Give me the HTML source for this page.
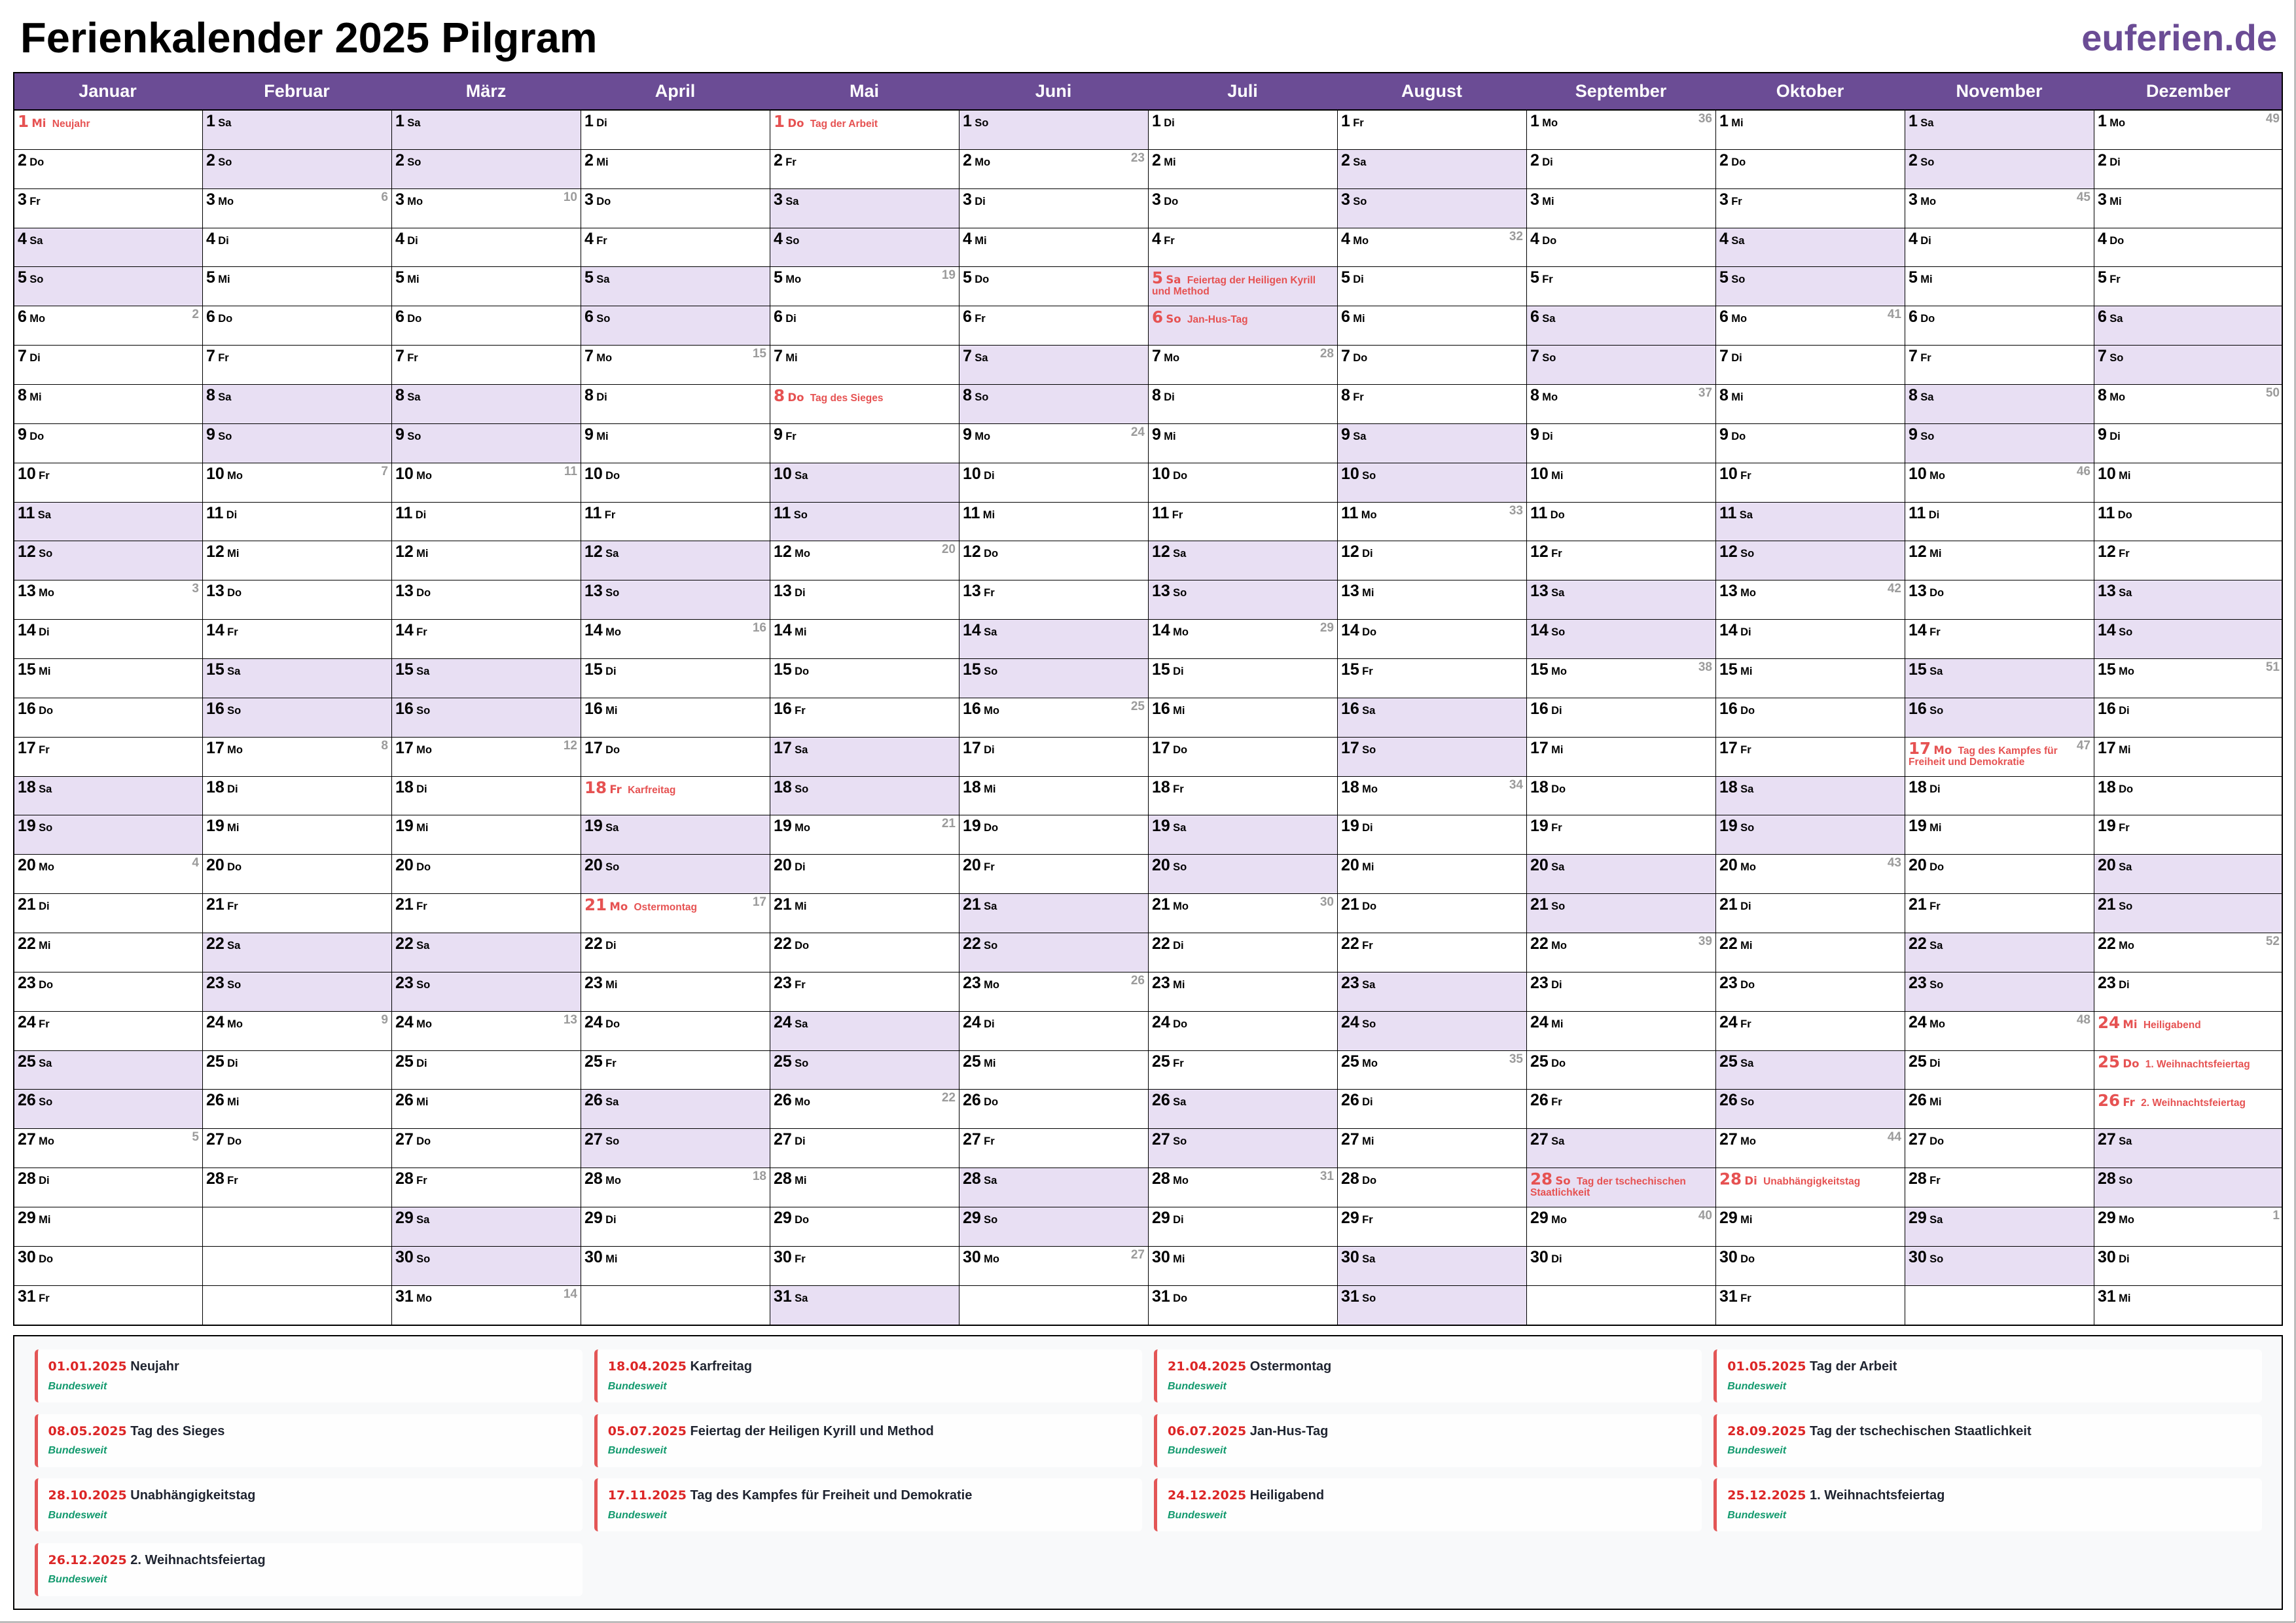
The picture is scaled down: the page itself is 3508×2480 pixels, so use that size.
<!DOCTYPE html>
<html lang="de">
<head>
<meta charset="utf-8">
<title>Ferienkalender 2025 Pilgram</title>
<style>
*{margin:0;padding:0;box-sizing:border-box}
html,body{width:3508px;height:2480px;background:#fff;overflow:hidden}
body{position:relative;font-family:"Liberation Sans",Arial,sans-serif;color:#000}
#title{position:absolute;left:31px;top:25px;font-size:65px;line-height:65px;font-weight:bold;white-space:nowrap}
#brand{position:absolute;right:29px;top:30px;font-size:56px;line-height:56px;font-weight:bold;color:#6b4c95;white-space:nowrap}
#hdr{position:absolute;left:20px;top:110px;width:3468px;height:59px;background:#6b4c95;border-bottom:2px solid #000;display:grid;grid-template-columns:repeat(12,289px)}
#hdr div{color:#fff;font-size:27px;font-weight:bold;text-align:center;line-height:55px;padding-top:2px}
#g{position:absolute;left:20px;top:169px;width:3468px;display:grid;grid-template-columns:repeat(12,289px);grid-template-rows:repeat(31,59.86px);grid-auto-flow:column}
.c{border-left:1px solid #000;border-bottom:1px solid #000;position:relative;padding:8px 4px 0 5px;font-size:15.5px;line-height:17px;font-weight:bold;white-space:nowrap;overflow:hidden;background:#fff}
.c:nth-child(-n+31){border-left:0;padding-left:7px}
.c:nth-child(31n){border-bottom:0}
.c.w{background:#e8dff3}
.c b{font-size:25px}
.c i{font-style:normal;font-size:16.5px}
.c s{position:absolute;right:5px;top:3px;font-size:19px;line-height:19px;color:#9b9b9b;text-decoration:none}
.c u{text-decoration:none;margin-left:5px}
.c.h{color:#e65252}
.c.h b{font-family:"DejaVu Sans",sans-serif;font-size:24.5px}
.c.h i{font-family:"DejaVu Sans",sans-serif;font-size:16.5px}
#ob{position:absolute;left:20px;top:110px;width:3468px;height:1916px;border:2px solid #000;pointer-events:none}
#lg{position:absolute;left:20px;top:2040px;width:3468px;height:420px;border:2px solid #000;background:#f8f9fa;padding:20px 30.5px;display:grid;grid-template-columns:repeat(4,1fr);column-gap:18px;row-gap:17.5px;grid-auto-rows:81px}
.k{background:#fefefe;border-left:5px solid #e35656;border-radius:6px;position:relative}
.l1{position:absolute;left:16px;top:14px;font-size:20px;line-height:24px;font-weight:bold;color:#1f2430;white-space:nowrap}
.l1 em{font-style:normal;font-family:"DejaVu Sans",sans-serif;font-size:19px;color:#dc2626}
.l2{position:absolute;left:16px;top:46.5px;font-size:16px;line-height:20px;font-weight:bold;font-style:italic;color:#139a6e;white-space:nowrap}
#pr{position:absolute;left:3506px;top:0;width:1px;height:2479px;background:#555}
#pb{position:absolute;left:0;top:2478px;width:3507px;height:1px;background:#555}
</style>
</head>
<body>
<div id="title">Ferienkalender 2025 Pilgram</div>
<div id="brand">euferien.de</div>

<div id="hdr"><div>Januar</div><div>Februar</div><div>März</div><div>April</div><div>Mai</div><div>Juni</div><div>Juli</div><div>August</div><div>September</div><div>Oktober</div><div>November</div><div>Dezember</div></div>

<div id="g">
<!-- Januar -->
<div class="c h"><b>1</b> <i>Mi</i> <u>Neujahr</u></div>
<div class=c><b>2</b> <i>Do</i></div>
<div class=c><b>3</b> <i>Fr</i></div>
<div class="c w"><b>4</b> <i>Sa</i></div>
<div class="c w"><b>5</b> <i>So</i></div>
<div class=c><b>6</b> <i>Mo</i><s>2</s></div>
<div class=c><b>7</b> <i>Di</i></div>
<div class=c><b>8</b> <i>Mi</i></div>
<div class=c><b>9</b> <i>Do</i></div>
<div class=c><b>10</b> <i>Fr</i></div>
<div class="c w"><b>11</b> <i>Sa</i></div>
<div class="c w"><b>12</b> <i>So</i></div>
<div class=c><b>13</b> <i>Mo</i><s>3</s></div>
<div class=c><b>14</b> <i>Di</i></div>
<div class=c><b>15</b> <i>Mi</i></div>
<div class=c><b>16</b> <i>Do</i></div>
<div class=c><b>17</b> <i>Fr</i></div>
<div class="c w"><b>18</b> <i>Sa</i></div>
<div class="c w"><b>19</b> <i>So</i></div>
<div class=c><b>20</b> <i>Mo</i><s>4</s></div>
<div class=c><b>21</b> <i>Di</i></div>
<div class=c><b>22</b> <i>Mi</i></div>
<div class=c><b>23</b> <i>Do</i></div>
<div class=c><b>24</b> <i>Fr</i></div>
<div class="c w"><b>25</b> <i>Sa</i></div>
<div class="c w"><b>26</b> <i>So</i></div>
<div class=c><b>27</b> <i>Mo</i><s>5</s></div>
<div class=c><b>28</b> <i>Di</i></div>
<div class=c><b>29</b> <i>Mi</i></div>
<div class=c><b>30</b> <i>Do</i></div>
<div class=c><b>31</b> <i>Fr</i></div>
<!-- Februar -->
<div class="c w"><b>1</b> <i>Sa</i></div>
<div class="c w"><b>2</b> <i>So</i></div>
<div class=c><b>3</b> <i>Mo</i><s>6</s></div>
<div class=c><b>4</b> <i>Di</i></div>
<div class=c><b>5</b> <i>Mi</i></div>
<div class=c><b>6</b> <i>Do</i></div>
<div class=c><b>7</b> <i>Fr</i></div>
<div class="c w"><b>8</b> <i>Sa</i></div>
<div class="c w"><b>9</b> <i>So</i></div>
<div class=c><b>10</b> <i>Mo</i><s>7</s></div>
<div class=c><b>11</b> <i>Di</i></div>
<div class=c><b>12</b> <i>Mi</i></div>
<div class=c><b>13</b> <i>Do</i></div>
<div class=c><b>14</b> <i>Fr</i></div>
<div class="c w"><b>15</b> <i>Sa</i></div>
<div class="c w"><b>16</b> <i>So</i></div>
<div class=c><b>17</b> <i>Mo</i><s>8</s></div>
<div class=c><b>18</b> <i>Di</i></div>
<div class=c><b>19</b> <i>Mi</i></div>
<div class=c><b>20</b> <i>Do</i></div>
<div class=c><b>21</b> <i>Fr</i></div>
<div class="c w"><b>22</b> <i>Sa</i></div>
<div class="c w"><b>23</b> <i>So</i></div>
<div class=c><b>24</b> <i>Mo</i><s>9</s></div>
<div class=c><b>25</b> <i>Di</i></div>
<div class=c><b>26</b> <i>Mi</i></div>
<div class=c><b>27</b> <i>Do</i></div>
<div class=c><b>28</b> <i>Fr</i></div>
<div class=c></div>
<div class=c></div>
<div class=c></div>
<!-- März -->
<div class="c w"><b>1</b> <i>Sa</i></div>
<div class="c w"><b>2</b> <i>So</i></div>
<div class=c><b>3</b> <i>Mo</i><s>10</s></div>
<div class=c><b>4</b> <i>Di</i></div>
<div class=c><b>5</b> <i>Mi</i></div>
<div class=c><b>6</b> <i>Do</i></div>
<div class=c><b>7</b> <i>Fr</i></div>
<div class="c w"><b>8</b> <i>Sa</i></div>
<div class="c w"><b>9</b> <i>So</i></div>
<div class=c><b>10</b> <i>Mo</i><s>11</s></div>
<div class=c><b>11</b> <i>Di</i></div>
<div class=c><b>12</b> <i>Mi</i></div>
<div class=c><b>13</b> <i>Do</i></div>
<div class=c><b>14</b> <i>Fr</i></div>
<div class="c w"><b>15</b> <i>Sa</i></div>
<div class="c w"><b>16</b> <i>So</i></div>
<div class=c><b>17</b> <i>Mo</i><s>12</s></div>
<div class=c><b>18</b> <i>Di</i></div>
<div class=c><b>19</b> <i>Mi</i></div>
<div class=c><b>20</b> <i>Do</i></div>
<div class=c><b>21</b> <i>Fr</i></div>
<div class="c w"><b>22</b> <i>Sa</i></div>
<div class="c w"><b>23</b> <i>So</i></div>
<div class=c><b>24</b> <i>Mo</i><s>13</s></div>
<div class=c><b>25</b> <i>Di</i></div>
<div class=c><b>26</b> <i>Mi</i></div>
<div class=c><b>27</b> <i>Do</i></div>
<div class=c><b>28</b> <i>Fr</i></div>
<div class="c w"><b>29</b> <i>Sa</i></div>
<div class="c w"><b>30</b> <i>So</i></div>
<div class=c><b>31</b> <i>Mo</i><s>14</s></div>
<!-- April -->
<div class=c><b>1</b> <i>Di</i></div>
<div class=c><b>2</b> <i>Mi</i></div>
<div class=c><b>3</b> <i>Do</i></div>
<div class=c><b>4</b> <i>Fr</i></div>
<div class="c w"><b>5</b> <i>Sa</i></div>
<div class="c w"><b>6</b> <i>So</i></div>
<div class=c><b>7</b> <i>Mo</i><s>15</s></div>
<div class=c><b>8</b> <i>Di</i></div>
<div class=c><b>9</b> <i>Mi</i></div>
<div class=c><b>10</b> <i>Do</i></div>
<div class=c><b>11</b> <i>Fr</i></div>
<div class="c w"><b>12</b> <i>Sa</i></div>
<div class="c w"><b>13</b> <i>So</i></div>
<div class=c><b>14</b> <i>Mo</i><s>16</s></div>
<div class=c><b>15</b> <i>Di</i></div>
<div class=c><b>16</b> <i>Mi</i></div>
<div class=c><b>17</b> <i>Do</i></div>
<div class="c h"><b>18</b> <i>Fr</i> <u>Karfreitag</u></div>
<div class="c w"><b>19</b> <i>Sa</i></div>
<div class="c w"><b>20</b> <i>So</i></div>
<div class="c h"><b>21</b> <i>Mo</i> <u>Ostermontag</u><s>17</s></div>
<div class=c><b>22</b> <i>Di</i></div>
<div class=c><b>23</b> <i>Mi</i></div>
<div class=c><b>24</b> <i>Do</i></div>
<div class=c><b>25</b> <i>Fr</i></div>
<div class="c w"><b>26</b> <i>Sa</i></div>
<div class="c w"><b>27</b> <i>So</i></div>
<div class=c><b>28</b> <i>Mo</i><s>18</s></div>
<div class=c><b>29</b> <i>Di</i></div>
<div class=c><b>30</b> <i>Mi</i></div>
<div class=c></div>
<!-- Mai -->
<div class="c h"><b>1</b> <i>Do</i> <u>Tag der Arbeit</u></div>
<div class=c><b>2</b> <i>Fr</i></div>
<div class="c w"><b>3</b> <i>Sa</i></div>
<div class="c w"><b>4</b> <i>So</i></div>
<div class=c><b>5</b> <i>Mo</i><s>19</s></div>
<div class=c><b>6</b> <i>Di</i></div>
<div class=c><b>7</b> <i>Mi</i></div>
<div class="c h"><b>8</b> <i>Do</i> <u>Tag des Sieges</u></div>
<div class=c><b>9</b> <i>Fr</i></div>
<div class="c w"><b>10</b> <i>Sa</i></div>
<div class="c w"><b>11</b> <i>So</i></div>
<div class=c><b>12</b> <i>Mo</i><s>20</s></div>
<div class=c><b>13</b> <i>Di</i></div>
<div class=c><b>14</b> <i>Mi</i></div>
<div class=c><b>15</b> <i>Do</i></div>
<div class=c><b>16</b> <i>Fr</i></div>
<div class="c w"><b>17</b> <i>Sa</i></div>
<div class="c w"><b>18</b> <i>So</i></div>
<div class=c><b>19</b> <i>Mo</i><s>21</s></div>
<div class=c><b>20</b> <i>Di</i></div>
<div class=c><b>21</b> <i>Mi</i></div>
<div class=c><b>22</b> <i>Do</i></div>
<div class=c><b>23</b> <i>Fr</i></div>
<div class="c w"><b>24</b> <i>Sa</i></div>
<div class="c w"><b>25</b> <i>So</i></div>
<div class=c><b>26</b> <i>Mo</i><s>22</s></div>
<div class=c><b>27</b> <i>Di</i></div>
<div class=c><b>28</b> <i>Mi</i></div>
<div class=c><b>29</b> <i>Do</i></div>
<div class=c><b>30</b> <i>Fr</i></div>
<div class="c w"><b>31</b> <i>Sa</i></div>
<!-- Juni -->
<div class="c w"><b>1</b> <i>So</i></div>
<div class=c><b>2</b> <i>Mo</i><s>23</s></div>
<div class=c><b>3</b> <i>Di</i></div>
<div class=c><b>4</b> <i>Mi</i></div>
<div class=c><b>5</b> <i>Do</i></div>
<div class=c><b>6</b> <i>Fr</i></div>
<div class="c w"><b>7</b> <i>Sa</i></div>
<div class="c w"><b>8</b> <i>So</i></div>
<div class=c><b>9</b> <i>Mo</i><s>24</s></div>
<div class=c><b>10</b> <i>Di</i></div>
<div class=c><b>11</b> <i>Mi</i></div>
<div class=c><b>12</b> <i>Do</i></div>
<div class=c><b>13</b> <i>Fr</i></div>
<div class="c w"><b>14</b> <i>Sa</i></div>
<div class="c w"><b>15</b> <i>So</i></div>
<div class=c><b>16</b> <i>Mo</i><s>25</s></div>
<div class=c><b>17</b> <i>Di</i></div>
<div class=c><b>18</b> <i>Mi</i></div>
<div class=c><b>19</b> <i>Do</i></div>
<div class=c><b>20</b> <i>Fr</i></div>
<div class="c w"><b>21</b> <i>Sa</i></div>
<div class="c w"><b>22</b> <i>So</i></div>
<div class=c><b>23</b> <i>Mo</i><s>26</s></div>
<div class=c><b>24</b> <i>Di</i></div>
<div class=c><b>25</b> <i>Mi</i></div>
<div class=c><b>26</b> <i>Do</i></div>
<div class=c><b>27</b> <i>Fr</i></div>
<div class="c w"><b>28</b> <i>Sa</i></div>
<div class="c w"><b>29</b> <i>So</i></div>
<div class=c><b>30</b> <i>Mo</i><s>27</s></div>
<div class=c></div>
<!-- Juli -->
<div class=c><b>1</b> <i>Di</i></div>
<div class=c><b>2</b> <i>Mi</i></div>
<div class=c><b>3</b> <i>Do</i></div>
<div class=c><b>4</b> <i>Fr</i></div>
<div class="c w h"><b>5</b> <i>Sa</i> <u>Feiertag der Heiligen Kyrill</u><br>und Method</div>
<div class="c w h"><b>6</b> <i>So</i> <u>Jan-Hus-Tag</u></div>
<div class=c><b>7</b> <i>Mo</i><s>28</s></div>
<div class=c><b>8</b> <i>Di</i></div>
<div class=c><b>9</b> <i>Mi</i></div>
<div class=c><b>10</b> <i>Do</i></div>
<div class=c><b>11</b> <i>Fr</i></div>
<div class="c w"><b>12</b> <i>Sa</i></div>
<div class="c w"><b>13</b> <i>So</i></div>
<div class=c><b>14</b> <i>Mo</i><s>29</s></div>
<div class=c><b>15</b> <i>Di</i></div>
<div class=c><b>16</b> <i>Mi</i></div>
<div class=c><b>17</b> <i>Do</i></div>
<div class=c><b>18</b> <i>Fr</i></div>
<div class="c w"><b>19</b> <i>Sa</i></div>
<div class="c w"><b>20</b> <i>So</i></div>
<div class=c><b>21</b> <i>Mo</i><s>30</s></div>
<div class=c><b>22</b> <i>Di</i></div>
<div class=c><b>23</b> <i>Mi</i></div>
<div class=c><b>24</b> <i>Do</i></div>
<div class=c><b>25</b> <i>Fr</i></div>
<div class="c w"><b>26</b> <i>Sa</i></div>
<div class="c w"><b>27</b> <i>So</i></div>
<div class=c><b>28</b> <i>Mo</i><s>31</s></div>
<div class=c><b>29</b> <i>Di</i></div>
<div class=c><b>30</b> <i>Mi</i></div>
<div class=c><b>31</b> <i>Do</i></div>
<!-- August -->
<div class=c><b>1</b> <i>Fr</i></div>
<div class="c w"><b>2</b> <i>Sa</i></div>
<div class="c w"><b>3</b> <i>So</i></div>
<div class=c><b>4</b> <i>Mo</i><s>32</s></div>
<div class=c><b>5</b> <i>Di</i></div>
<div class=c><b>6</b> <i>Mi</i></div>
<div class=c><b>7</b> <i>Do</i></div>
<div class=c><b>8</b> <i>Fr</i></div>
<div class="c w"><b>9</b> <i>Sa</i></div>
<div class="c w"><b>10</b> <i>So</i></div>
<div class=c><b>11</b> <i>Mo</i><s>33</s></div>
<div class=c><b>12</b> <i>Di</i></div>
<div class=c><b>13</b> <i>Mi</i></div>
<div class=c><b>14</b> <i>Do</i></div>
<div class=c><b>15</b> <i>Fr</i></div>
<div class="c w"><b>16</b> <i>Sa</i></div>
<div class="c w"><b>17</b> <i>So</i></div>
<div class=c><b>18</b> <i>Mo</i><s>34</s></div>
<div class=c><b>19</b> <i>Di</i></div>
<div class=c><b>20</b> <i>Mi</i></div>
<div class=c><b>21</b> <i>Do</i></div>
<div class=c><b>22</b> <i>Fr</i></div>
<div class="c w"><b>23</b> <i>Sa</i></div>
<div class="c w"><b>24</b> <i>So</i></div>
<div class=c><b>25</b> <i>Mo</i><s>35</s></div>
<div class=c><b>26</b> <i>Di</i></div>
<div class=c><b>27</b> <i>Mi</i></div>
<div class=c><b>28</b> <i>Do</i></div>
<div class=c><b>29</b> <i>Fr</i></div>
<div class="c w"><b>30</b> <i>Sa</i></div>
<div class="c w"><b>31</b> <i>So</i></div>
<!-- September -->
<div class=c><b>1</b> <i>Mo</i><s>36</s></div>
<div class=c><b>2</b> <i>Di</i></div>
<div class=c><b>3</b> <i>Mi</i></div>
<div class=c><b>4</b> <i>Do</i></div>
<div class=c><b>5</b> <i>Fr</i></div>
<div class="c w"><b>6</b> <i>Sa</i></div>
<div class="c w"><b>7</b> <i>So</i></div>
<div class=c><b>8</b> <i>Mo</i><s>37</s></div>
<div class=c><b>9</b> <i>Di</i></div>
<div class=c><b>10</b> <i>Mi</i></div>
<div class=c><b>11</b> <i>Do</i></div>
<div class=c><b>12</b> <i>Fr</i></div>
<div class="c w"><b>13</b> <i>Sa</i></div>
<div class="c w"><b>14</b> <i>So</i></div>
<div class=c><b>15</b> <i>Mo</i><s>38</s></div>
<div class=c><b>16</b> <i>Di</i></div>
<div class=c><b>17</b> <i>Mi</i></div>
<div class=c><b>18</b> <i>Do</i></div>
<div class=c><b>19</b> <i>Fr</i></div>
<div class="c w"><b>20</b> <i>Sa</i></div>
<div class="c w"><b>21</b> <i>So</i></div>
<div class=c><b>22</b> <i>Mo</i><s>39</s></div>
<div class=c><b>23</b> <i>Di</i></div>
<div class=c><b>24</b> <i>Mi</i></div>
<div class=c><b>25</b> <i>Do</i></div>
<div class=c><b>26</b> <i>Fr</i></div>
<div class="c w"><b>27</b> <i>Sa</i></div>
<div class="c w h"><b>28</b> <i>So</i> <u>Tag der tschechischen</u><br>Staatlichkeit</div>
<div class=c><b>29</b> <i>Mo</i><s>40</s></div>
<div class=c><b>30</b> <i>Di</i></div>
<div class=c></div>
<!-- Oktober -->
<div class=c><b>1</b> <i>Mi</i></div>
<div class=c><b>2</b> <i>Do</i></div>
<div class=c><b>3</b> <i>Fr</i></div>
<div class="c w"><b>4</b> <i>Sa</i></div>
<div class="c w"><b>5</b> <i>So</i></div>
<div class=c><b>6</b> <i>Mo</i><s>41</s></div>
<div class=c><b>7</b> <i>Di</i></div>
<div class=c><b>8</b> <i>Mi</i></div>
<div class=c><b>9</b> <i>Do</i></div>
<div class=c><b>10</b> <i>Fr</i></div>
<div class="c w"><b>11</b> <i>Sa</i></div>
<div class="c w"><b>12</b> <i>So</i></div>
<div class=c><b>13</b> <i>Mo</i><s>42</s></div>
<div class=c><b>14</b> <i>Di</i></div>
<div class=c><b>15</b> <i>Mi</i></div>
<div class=c><b>16</b> <i>Do</i></div>
<div class=c><b>17</b> <i>Fr</i></div>
<div class="c w"><b>18</b> <i>Sa</i></div>
<div class="c w"><b>19</b> <i>So</i></div>
<div class=c><b>20</b> <i>Mo</i><s>43</s></div>
<div class=c><b>21</b> <i>Di</i></div>
<div class=c><b>22</b> <i>Mi</i></div>
<div class=c><b>23</b> <i>Do</i></div>
<div class=c><b>24</b> <i>Fr</i></div>
<div class="c w"><b>25</b> <i>Sa</i></div>
<div class="c w"><b>26</b> <i>So</i></div>
<div class=c><b>27</b> <i>Mo</i><s>44</s></div>
<div class="c h"><b>28</b> <i>Di</i> <u>Unabhängigkeitstag</u></div>
<div class=c><b>29</b> <i>Mi</i></div>
<div class=c><b>30</b> <i>Do</i></div>
<div class=c><b>31</b> <i>Fr</i></div>
<!-- November -->
<div class="c w"><b>1</b> <i>Sa</i></div>
<div class="c w"><b>2</b> <i>So</i></div>
<div class=c><b>3</b> <i>Mo</i><s>45</s></div>
<div class=c><b>4</b> <i>Di</i></div>
<div class=c><b>5</b> <i>Mi</i></div>
<div class=c><b>6</b> <i>Do</i></div>
<div class=c><b>7</b> <i>Fr</i></div>
<div class="c w"><b>8</b> <i>Sa</i></div>
<div class="c w"><b>9</b> <i>So</i></div>
<div class=c><b>10</b> <i>Mo</i><s>46</s></div>
<div class=c><b>11</b> <i>Di</i></div>
<div class=c><b>12</b> <i>Mi</i></div>
<div class=c><b>13</b> <i>Do</i></div>
<div class=c><b>14</b> <i>Fr</i></div>
<div class="c w"><b>15</b> <i>Sa</i></div>
<div class="c w"><b>16</b> <i>So</i></div>
<div class="c h"><b>17</b> <i>Mo</i> <u>Tag des Kampfes für</u><br>Freiheit und Demokratie<s>47</s></div>
<div class=c><b>18</b> <i>Di</i></div>
<div class=c><b>19</b> <i>Mi</i></div>
<div class=c><b>20</b> <i>Do</i></div>
<div class=c><b>21</b> <i>Fr</i></div>
<div class="c w"><b>22</b> <i>Sa</i></div>
<div class="c w"><b>23</b> <i>So</i></div>
<div class=c><b>24</b> <i>Mo</i><s>48</s></div>
<div class=c><b>25</b> <i>Di</i></div>
<div class=c><b>26</b> <i>Mi</i></div>
<div class=c><b>27</b> <i>Do</i></div>
<div class=c><b>28</b> <i>Fr</i></div>
<div class="c w"><b>29</b> <i>Sa</i></div>
<div class="c w"><b>30</b> <i>So</i></div>
<div class=c></div>
<!-- Dezember -->
<div class=c><b>1</b> <i>Mo</i><s>49</s></div>
<div class=c><b>2</b> <i>Di</i></div>
<div class=c><b>3</b> <i>Mi</i></div>
<div class=c><b>4</b> <i>Do</i></div>
<div class=c><b>5</b> <i>Fr</i></div>
<div class="c w"><b>6</b> <i>Sa</i></div>
<div class="c w"><b>7</b> <i>So</i></div>
<div class=c><b>8</b> <i>Mo</i><s>50</s></div>
<div class=c><b>9</b> <i>Di</i></div>
<div class=c><b>10</b> <i>Mi</i></div>
<div class=c><b>11</b> <i>Do</i></div>
<div class=c><b>12</b> <i>Fr</i></div>
<div class="c w"><b>13</b> <i>Sa</i></div>
<div class="c w"><b>14</b> <i>So</i></div>
<div class=c><b>15</b> <i>Mo</i><s>51</s></div>
<div class=c><b>16</b> <i>Di</i></div>
<div class=c><b>17</b> <i>Mi</i></div>
<div class=c><b>18</b> <i>Do</i></div>
<div class=c><b>19</b> <i>Fr</i></div>
<div class="c w"><b>20</b> <i>Sa</i></div>
<div class="c w"><b>21</b> <i>So</i></div>
<div class=c><b>22</b> <i>Mo</i><s>52</s></div>
<div class=c><b>23</b> <i>Di</i></div>
<div class="c h"><b>24</b> <i>Mi</i> <u>Heiligabend</u></div>
<div class="c h"><b>25</b> <i>Do</i> <u>1. Weihnachtsfeiertag</u></div>
<div class="c h"><b>26</b> <i>Fr</i> <u>2. Weihnachtsfeiertag</u></div>
<div class="c w"><b>27</b> <i>Sa</i></div>
<div class="c w"><b>28</b> <i>So</i></div>
<div class=c><b>29</b> <i>Mo</i><s>1</s></div>
<div class=c><b>30</b> <i>Di</i></div>
<div class=c><b>31</b> <i>Mi</i></div>
</div>
<div id="ob"></div>

<div id="lg">
<div class="k"><div class="l1"><em>01.01.2025</em> Neujahr</div><div class="l2">Bundesweit</div></div>
<div class="k"><div class="l1"><em>18.04.2025</em> Karfreitag</div><div class="l2">Bundesweit</div></div>
<div class="k"><div class="l1"><em>21.04.2025</em> Ostermontag</div><div class="l2">Bundesweit</div></div>
<div class="k"><div class="l1"><em>01.05.2025</em> Tag der Arbeit</div><div class="l2">Bundesweit</div></div>
<div class="k"><div class="l1"><em>08.05.2025</em> Tag des Sieges</div><div class="l2">Bundesweit</div></div>
<div class="k"><div class="l1"><em>05.07.2025</em> Feiertag der Heiligen Kyrill und Method</div><div class="l2">Bundesweit</div></div>
<div class="k"><div class="l1"><em>06.07.2025</em> Jan-Hus-Tag</div><div class="l2">Bundesweit</div></div>
<div class="k"><div class="l1"><em>28.09.2025</em> Tag der tschechischen Staatlichkeit</div><div class="l2">Bundesweit</div></div>
<div class="k"><div class="l1"><em>28.10.2025</em> Unabhängigkeitstag</div><div class="l2">Bundesweit</div></div>
<div class="k"><div class="l1"><em>17.11.2025</em> Tag des Kampfes für Freiheit und Demokratie</div><div class="l2">Bundesweit</div></div>
<div class="k"><div class="l1"><em>24.12.2025</em> Heiligabend</div><div class="l2">Bundesweit</div></div>
<div class="k"><div class="l1"><em>25.12.2025</em> 1. Weihnachtsfeiertag</div><div class="l2">Bundesweit</div></div>
<div class="k"><div class="l1"><em>26.12.2025</em> 2. Weihnachtsfeiertag</div><div class="l2">Bundesweit</div></div>
</div>

<div id="pr"></div>
<div id="pb"></div>
</body>
</html>
